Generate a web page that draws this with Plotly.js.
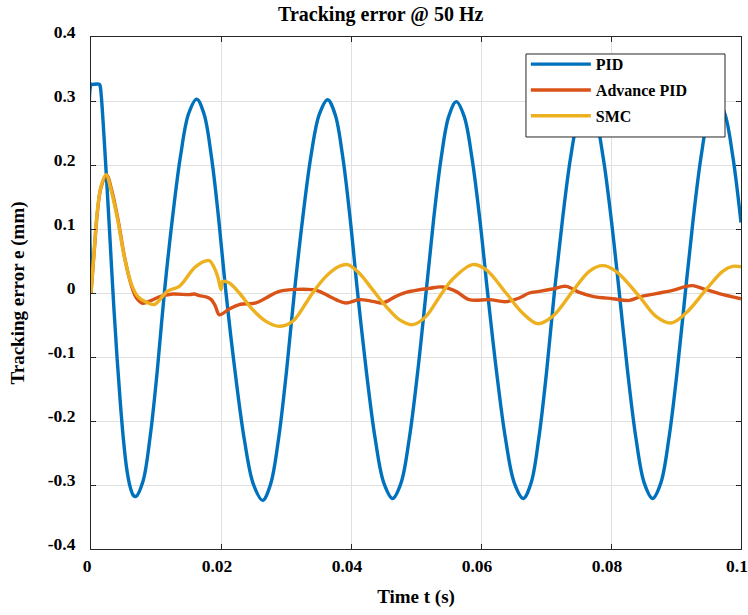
<!DOCTYPE html>
<html>
<head>
<meta charset="utf-8">
<script src="https://cdn.plot.ly/plotly-3.0.1.min.js"></script>
<style>html,body{margin:0;padding:0;background:#fff;}#chart{width:748px;height:615px;}</style>
</head>
<body>
<div id="chart"></div>
<script>
// ---- Data ----
const seriesNames = ["PID", "Advance PID", "SMC"];

const pidT = [0, 0.00005, 0.0002, 0.0013, 0.00143, 0.002, 0.0025, 0.003, 0.0035, 0.004, 0.0045, 0.005, 0.0055, 0.006, 0.0065, 0.0069,
  0.0080, 0.00909, 0.01019, 0.01128, 0.01252, 0.01377, 0.01501, 0.01625,
  0.01738, 0.01851, 0.01964, 0.02077, 0.02218, 0.02359, 0.02499, 0.0264,
  0.02762, 0.02884, 0.03006, 0.03128, 0.03256, 0.03384, 0.03512, 0.0364,
  0.03756, 0.03871, 0.03987, 0.04102, 0.04237, 0.04371, 0.04506, 0.0464,
  0.04769, 0.04897, 0.05026, 0.05154, 0.05271, 0.05387, 0.05504, 0.0562,
  0.05741, 0.05861, 0.05982, 0.06102, 0.06239, 0.06376, 0.06513, 0.0665,
  0.0677, 0.06889, 0.07009, 0.07128, 0.07254, 0.07379, 0.07505, 0.0763,
  0.07755, 0.07879, 0.08004, 0.08128, 0.08256, 0.08384, 0.08512, 0.0864,
  0.08766, 0.08891, 0.09017, 0.09143, 0.09265, 0.09387, 0.09508, 0.0963,
  0.09751, 0.09873, 0.1];
const pidE = [0, 0.326, 0.326, 0.326, 0.322, 0.245, 0.16, 0.07, -0.02, -0.10, -0.17, -0.23, -0.275, -0.302, -0.316, -0.318,
  -0.294, -0.225, -0.122, 0.0, 0.116, 0.214, 0.280, 0.303,
  0.280, 0.214, 0.116, 0.0, -0.124, -0.229, -0.299, -0.324,
  -0.299, -0.229, -0.124, 0.0, 0.116, 0.214, 0.279, 0.302,
  0.279, 0.214, 0.116, 0.0, -0.123, -0.227, -0.297, -0.321,
  -0.297, -0.227, -0.123, 0.0, 0.115, 0.211, 0.276, 0.299,
  0.276, 0.211, 0.115, 0.0, -0.123, -0.227, -0.297, -0.321,
  -0.297, -0.227, -0.123, 0.0, 0.115, 0.212, 0.277, 0.300,
  0.277, 0.212, 0.115, 0.0, -0.123, -0.227, -0.297, -0.321,
  -0.297, -0.227, -0.123, 0.0, 0.116, 0.214, 0.280, 0.303,
  0.280, 0.214, 0.11];

const apidT = [0, 0.0005, 0.001, 0.00154, 0.0024, 0.0032, 0.0042, 0.0052, 0.0062, 0.0070, 0.00794, 0.0092, 0.0105, 0.01256, 0.01512, 0.0159, 0.01666, 0.0177, 0.01846, 0.0190, 0.01923, 0.01974, 0.02128, 0.02282, 0.02538, 0.02692, 0.02897, 0.03409, 0.03512, 0.03769, 0.03923, 0.04128, 0.04332, 0.04486, 0.04692, 0.04846, 0.05205, 0.05409, 0.05615, 0.0582, 0.06128, 0.06385, 0.06589, 0.06743, 0.06897, 0.07102, 0.07308, 0.07512, 0.07717, 0.08025, 0.08282, 0.08435, 0.08692, 0.08948, 0.09154, 0.09255, 0.09462, 0.09666, 0.1];
const apidE = [0, 0.066, 0.128, 0.165, 0.184, 0.16, 0.112, 0.054, 0.012, -0.008, -0.016, -0.012, -0.006, -0.0016, -0.0026, -0.0016, -0.004, -0.006, -0.01, -0.0178, -0.023, -0.034, -0.025, -0.018, -0.0156, -0.0078, 0.0026, 0.0052, 0.0026, -0.0104, -0.0156, -0.0104, -0.013, -0.0156, -0.0052, 0.001, 0.0073, 0.0094, 0.0026, -0.0104, -0.0104, -0.0135, -0.0078, 0.0, 0.0026, 0.0063, 0.0104, 0.001, -0.0052, -0.0089, -0.0115, -0.0063, -0.001, 0.0042, 0.0104, 0.0115, 0.0052, -0.001, -0.009];

const smcT = [0, 0.0005, 0.001, 0.00154, 0.0023, 0.00308, 0.0041, 0.00512, 0.00615, 0.00718, 0.00846, 0.00974, 0.01178, 0.01358, 0.01615, 0.0182, 0.01871, 0.01948, 0.0200, 0.02025, 0.02128, 0.02282, 0.02487, 0.02692, 0.02897, 0.03102, 0.03308, 0.03409, 0.03615, 0.0382, 0.03948, 0.04128, 0.04332, 0.04538, 0.04743, 0.04948, 0.05154, 0.05358, 0.05563, 0.05871, 0.06077, 0.06385, 0.0664, 0.06871, 0.07102, 0.07409, 0.07666, 0.07871, 0.08077, 0.08435, 0.08692, 0.08923, 0.09154, 0.09462, 0.09717, 0.09871, 0.1];
const smcE = [0, 0.068, 0.13, 0.1666, 0.185, 0.161, 0.1145, 0.057, 0.0156, -0.0053, -0.014, -0.018, 0.003, 0.0104, 0.0417, 0.0505, 0.0443, 0.026, 0.0052, 0.018, 0.0156, 0.0, -0.026, -0.0443, -0.052, -0.0443, -0.0156, 0.0, 0.026, 0.0417, 0.0443, 0.031, 0.0052, -0.0208, -0.0417, -0.0495, -0.0365, -0.0065, 0.0215, 0.0443, 0.0365, 0.0, -0.0313, -0.0479, -0.0365, 0.0026, 0.0339, 0.0427, 0.0339, -0.0052, -0.0365, -0.0469, -0.0313, 0.0052, 0.0339, 0.0417, 0.041];

const xTickVals = [0, 0.02, 0.04, 0.06, 0.08, 0.1];
const xTickText = ["0", "0.02", "0.04", "0.06", "0.08", "0.1"];
const yTickVals = [-0.4, -0.3, -0.2, -0.1, 0, 0.1, 0.2, 0.3, 0.4];
const yTickText = ["-0.4", "-0.3", "-0.2", "-0.1", "0", "0.1", "0.2", "0.3", "0.4"];

const titleText = "Tracking error @ 50 Hz";
const xTitle = "Time t (s)";
const yTitle = "Tracking error e (mm)";

// ---- Styling ----
const colors = ["#0072BD", "#D95319", "#EDB120"];
const serif = "Liberation Serif, Times New Roman, serif";
const txt = "#000000";
const axisCol = "#262626";
const gridCol = "#e0e0e0";

const xs = [pidT, apidT, smcT];
const ys = [pidE, apidE, smcE];

const traces = seriesNames.map((name, i) => ({
  type: "scatter",
  mode: "lines",
  name: "<b>" + name + "</b>",
  x: xs[i],
  y: ys[i],
  legendgroup: "g" + i,
  line: { color: colors[i], width: 3.4, shape: "spline", smoothing: 1 },
  hoverinfo: "x+y"
}));

const axisCommon = {
  showline: true,
  linecolor: axisCol,
  linewidth: 1,
  mirror: "ticks",
  ticks: "inside",
  ticklen: 5,
  tickwidth: 1,
  tickcolor: axisCol,
  showgrid: true,
  gridcolor: gridCol,
  gridwidth: 1,
  zeroline: false,
  tickfont: { family: serif, size: 17.5, color: txt, weight: "bold" },
  fixedrange: true
};

const layout = {
  width: 748,
  height: 615,
  paper_bgcolor: "#ffffff",
  plot_bgcolor: "#ffffff",
  margin: { l: 91, r: 7, t: 37, b: 66 },
  title: {
    text: "<b>" + titleText + "</b>",
    font: { family: serif, size: 20, color: txt },
    xref: "container", x: 0.509, xanchor: "center",
    yref: "container", y: 0.977, yanchor: "middle"
  },
  xaxis: Object.assign({}, axisCommon, {
    range: [0, 0.1],
    tickmode: "array",
    tickvals: xTickVals,
    ticktext: xTickText,
    ticklabelstandoff: 1,
    ticklabelshift: -4,
    title: { text: "<b>" + xTitle + "</b>", font: { family: serif, size: 19, color: txt }, standoff: 14 }
  }),
  yaxis: Object.assign({}, axisCommon, {
    range: [-0.4, 0.4],
    tickmode: "array",
    tickvals: yTickVals,
    ticktext: yTickText,
    ticklabelstandoff: 11,
    ticklabelshift: -5,
    title: { text: "<b>" + yTitle + "</b>", font: { family: serif, size: 19, color: txt }, standoff: 18 }
  }),
  showlegend: true,
  legend: {
    x: 0.669, y: 0.980, xanchor: "left", yanchor: "top",
    xref: "paper", yref: "paper",
    bgcolor: "rgba(0,0,0,0)",
    borderwidth: 0,
    font: { family: serif, size: 16, color: txt },
    itemwidth: 60,
    tracegroupgap: 2,
    traceorder: "grouped"
  },
  shapes: [{
    type: "rect", xref: "paper", yref: "paper", layer: "above",
    x0: 0.6692, x1: 0.9754, y0: 0.8047, y1: 0.9668,
    fillcolor: "#ffffff", line: { color: axisCol, width: 1 }
  }],
  hovermode: false
};

Plotly.newPlot("chart", traces, layout, { displayModeBar: false, staticPlot: true });
</script>
</body>
</html>
